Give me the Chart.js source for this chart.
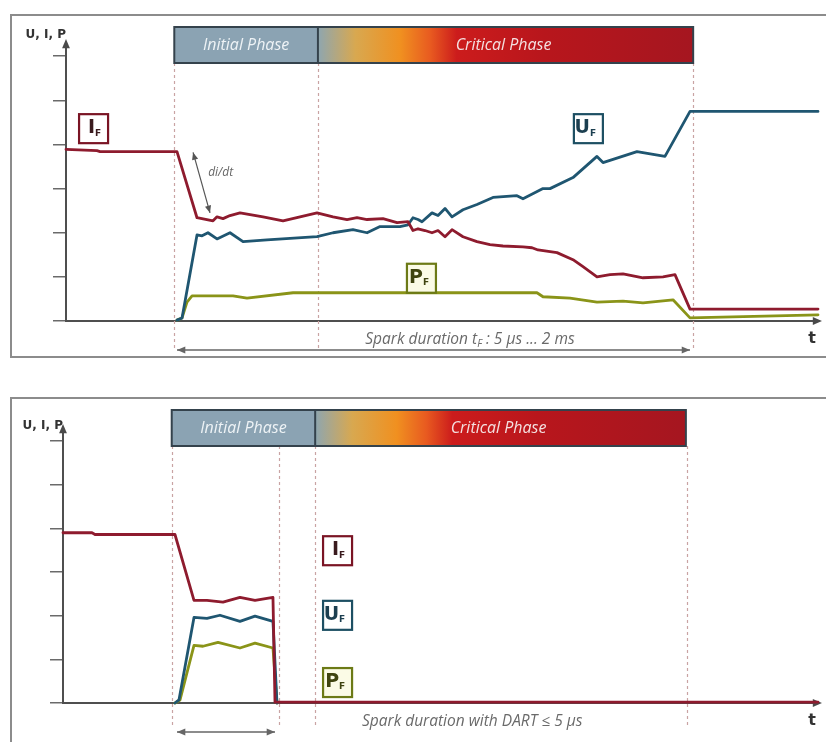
<!DOCTYPE html>
<html>
<head>
<meta charset="utf-8">
<script src="https://cdn.jsdelivr.net/npm/chart.js@4.4.0/dist/chart.umd.min.js"></script>
<style>
  html, body { margin: 0; padding: 0; background: #fff; }
  body { width: 826px; height: 742px; overflow: hidden; position: relative; }
  .frame { position: absolute; border: 2px solid #8c8c8c; box-sizing: border-box; }
  canvas { position: absolute; left: 0; }
</style>
</head>
<body>
<div class="frame" style="left:10px;top:14px;width:830px;height:344px"></div>
<div class="frame" style="left:10px;top:397px;width:830px;height:360px"></div>
<canvas id="topChart" width="826" height="370" style="top:0"></canvas>
<canvas id="bottomChart" width="826" height="372" style="top:370px"></canvas>
<script>
// y ticks (same for both panels)
const yTicks = [0, 1, 2, 3, 4, 5, 6];

// top panel: normal spark (time in arbitrary units 0..100)
const topIfT = [0, 4.12, 4.52, 14.76, 17.42, 19.55, 20.08, 20.88, 21.81, 23.14, 26.20, 28.86, 33.38, 35.51, 37.37, 38.70, 40.03, 42.15, 44.02, 45.48, 46.14, 46.81, 47.74, 48.67, 49.47, 50.40, 51.33, 52.79, 54.65, 56.38, 58.11, 60.77, 61.97, 62.77, 65.29, 67.42, 68.75, 70.61, 72.34, 74.07, 76.73, 79.39, 80.98, 82.98, 100];
const topIfV = [3.89, 3.86, 3.84, 3.84, 2.34, 2.27, 2.36, 2.32, 2.39, 2.45, 2.36, 2.27, 2.45, 2.36, 2.30, 2.34, 2.30, 2.32, 2.23, 2.25, 2.05, 2.09, 2.05, 2.00, 2.05, 1.91, 2.07, 1.91, 1.80, 1.73, 1.70, 1.68, 1.66, 1.61, 1.55, 1.39, 1.23, 1.00, 1.05, 1.07, 0.98, 1.00, 1.05, 0.27, 0.27];
const topUfT = [14.76, 15.43, 17.42, 18.09, 18.88, 20.08, 21.81, 23.54, 26.73, 33.38, 35.51, 38.16, 40.03, 41.76, 44.41, 45.48, 46.14, 46.81, 47.34, 48.67, 49.47, 50.40, 51.33, 52.79, 54.65, 56.78, 59.97, 60.77, 63.43, 64.36, 67.42, 70.61, 71.41, 75.93, 79.65, 82.98, 100];
const topUfV = [0.02, 0.07, 1.95, 1.93, 2.00, 1.86, 2.00, 1.80, 1.84, 1.91, 2.00, 2.07, 2.00, 2.14, 2.14, 2.18, 2.34, 2.30, 2.25, 2.45, 2.39, 2.55, 2.36, 2.52, 2.64, 2.80, 2.84, 2.77, 3.00, 3.00, 3.25, 3.73, 3.59, 3.84, 3.73, 4.75, 4.75];
const topPfT = [14.76, 15.43, 16.09, 16.76, 22.21, 24.07, 30.19, 62.63, 63.43, 67.02, 70.61, 74.07, 76.73, 80.72, 82.98, 100];
const topPfV = [0.02, 0.07, 0.43, 0.57, 0.57, 0.52, 0.64, 0.64, 0.55, 0.52, 0.43, 0.45, 0.41, 0.48, 0.07, 0.14];

// bottom panel: spark cut off by DART
const botIfT = [0, 3.84, 4.24, 14.83, 17.35, 19.07, 21.19, 23.44, 25.43, 27.81, 28.08, 100];
const botIfV = [3.90, 3.90, 3.86, 3.86, 2.35, 2.35, 2.31, 2.42, 2.35, 2.42, 0.02, 0.02];
const botUfT = [14.83, 15.36, 17.35, 19.07, 20.79, 23.44, 25.43, 27.81, 28.34];
const botUfV = [0, 0.07, 1.96, 1.94, 2.01, 1.87, 1.99, 1.87, 0];
const botPfT = [14.83, 15.50, 17.35, 18.54, 20.53, 23.44, 25.43, 27.81, 28.34];
const botPfV = [0, 0.07, 1.32, 1.30, 1.39, 1.26, 1.37, 1.26, 0];

// phase bar: start, end of initial phase, end of critical phase
const topPhases = [14.4, 33.5, 83.4];
const botPhases = [14.4, 33.4, 82.5];
const topMarkers = [14.4, 33.5, 83.4];
const botMarkers = [14.4, 28.6, 33.4, 82.6];

const colI = '#8e1b2e', colU = '#1f5671', colP = '#8a9418';

function pts(t, v) {
    return t.map((x, i) => ({ x: x, y: v[i] }));
}

function arrowHead(ctx, x, y, ang, size) {
    ctx.beginPath();
    ctx.moveTo(x, y);
    ctx.lineTo(x - size * Math.cos(ang - 0.4), y - size * Math.sin(ang - 0.4));
    ctx.lineTo(x - size * Math.cos(ang + 0.4), y - size * Math.sin(ang + 0.4));
    ctx.closePath();
    ctx.fill();
}

function doubleArrow(ctx, x1, y1, x2, y2, size) {
    ctx.beginPath();
    ctx.moveTo(x1, y1);
    ctx.lineTo(x2, y2);
    ctx.stroke();
    const ang = Math.atan2(y2 - y1, x2 - x1);
    arrowHead(ctx, x2, y2, ang, size);
    arrowHead(ctx, x1, y1, ang + Math.PI, size);
}

function subText(ctx, letter, cx, cy, color) {
    ctx.fillStyle = color;
    ctx.font = 'bold 19px "DejaVu Sans"';
    ctx.textBaseline = 'middle';
    ctx.textAlign = 'right';
    ctx.fillText(letter, cx + 2, cy);
    ctx.font = 'bold 9px "DejaVu Sans"';
    ctx.textAlign = 'left';
    ctx.fillText('F', cx + 2, cy + 5);
}

const decor = {
    id: 'decor',
    beforeDatasetsDraw(chart, args, o) {
        const { ctx, chartArea: a, scales: { x, y } } = chart;
        ctx.save();
        const p0 = x.getPixelForValue(o.phases[0]);
        const p1 = x.getPixelForValue(o.phases[1]);
        const p2 = x.getPixelForValue(o.phases[2]);
        const bt = a.top + o.barDy, bh = 36;

        // dashed markers
        ctx.strokeStyle = '#c9a3a3';
        ctx.lineWidth = 1.2;
        ctx.setLineDash([3, 3]);
        o.markers.forEach(m => {
            const px = Math.round(x.getPixelForValue(m)) + 0.5;
            ctx.beginPath();
            ctx.moveTo(px, bt + bh);
            ctx.lineTo(px, a.bottom + o.markerEnd);
            ctx.stroke();
        });
        ctx.setLineDash([]);

        // phase bar
        ctx.fillStyle = '#8ba3b3';
        ctx.fillRect(p0, bt, p1 - p0, bh);
        const g = ctx.createLinearGradient(p1, 0, p2, 0);
        g.addColorStop(0, '#8ea6b0');
        g.addColorStop(0.1, '#d8a850');
        g.addColorStop(0.22, '#f09020');
        g.addColorStop(0.30, '#e85a20');
        g.addColorStop(0.37, '#cc1c1c');
        g.addColorStop(0.6, '#b8161c');
        g.addColorStop(1, '#a51620');
        ctx.fillStyle = g;
        ctx.fillRect(p1, bt, p2 - p1, bh);
        ctx.strokeStyle = '#34424c';
        ctx.lineWidth = 2;
        ctx.strokeRect(p0, bt, p2 - p0, bh);
        ctx.beginPath();
        ctx.moveTo(p1, bt);
        ctx.lineTo(p1, bt + bh);
        ctx.stroke();
        ctx.font = 'italic 16px "Open Sans"';
        ctx.textAlign = 'center';
        ctx.textBaseline = 'middle';
        ctx.fillStyle = '#eef3f6';
        ctx.fillText('Initial Phase', (p0 + p1) / 2, bt + bh / 2);
        ctx.fillStyle = '#f4e0e0';
        ctx.fillText('Critical Phase', (p1 + p2) / 2 - 2, bt + bh / 2);

        // axis arrows and labels
        ctx.fillStyle = '#4a4a4a';
        arrowHead(ctx, a.left, a.top - 4, -Math.PI / 2, 10);
        arrowHead(ctx, a.right + 4, a.bottom, 0, 10);
        ctx.font = 'bold 12px "DejaVu Sans"';
        ctx.textAlign = 'right';
        ctx.fillStyle = '#333';
        ctx.fillText('U, I, P', a.left, a.top + o.axisLabelDy);
        ctx.font = 'bold 16px "DejaVu Sans"';
        ctx.fillText('t', a.right - 2, a.bottom + 18);

        // spark duration arrow and text
        ctx.strokeStyle = '#666';
        ctx.fillStyle = '#666';
        ctx.lineWidth = 1.5;
        const ay = a.bottom + 29;
        doubleArrow(ctx, x.getPixelForValue(o.spark[0]), ay, x.getPixelForValue(o.spark[1]), ay, 9);
        ctx.textAlign = 'left';
        ctx.fillStyle = '#6a6a6a';
        let tx = x.getPixelForValue(o.sparkTextX);
        const ty = a.bottom + 19;
        o.sparkText.forEach(part => {
            if (part.sub) {
                ctx.font = 'italic 10px "Open Sans"';
                ctx.fillText(part.sub, tx, ty + 4);
                tx += ctx.measureText(part.sub).width;
            } else {
                ctx.font = 'italic 15.5px "Open Sans"';
                ctx.fillText(part.t, tx, ty);
                tx += ctx.measureText(part.t).width;
            }
        });

        // di/dt arrow
        if (o.didt) {
            ctx.strokeStyle = '#555';
            ctx.fillStyle = '#555';
            ctx.lineWidth = 1.2;
            doubleArrow(ctx, x.getPixelForValue(o.didt.from[0]), y.getPixelForValue(o.didt.from[1]),
                x.getPixelForValue(o.didt.to[0]), y.getPixelForValue(o.didt.to[1]), 8);
            ctx.font = 'italic 12px "Open Sans"';
            ctx.textAlign = 'left';
            ctx.fillStyle = '#666';
            ctx.fillText('di/dt', x.getPixelForValue(o.didt.text[0]), y.getPixelForValue(o.didt.text[1]));
        }
        ctx.restore();
    },
    afterDatasetsDraw(chart, args, o) {
        const { ctx, scales: { x, y } } = chart;
        ctx.save();
        o.labels.forEach(l => {
            const cx = x.getPixelForValue(l.x), cy = y.getPixelForValue(l.y);
            ctx.fillStyle = l.fill;
            ctx.fillRect(cx - 14, cy - 14, 29, 29);
            ctx.strokeStyle = l.color;
            ctx.lineWidth = 2.2;
            ctx.strokeRect(cx - 14, cy - 14, 29, 29);
            subText(ctx, l.letter, cx, cy, l.text);
        });
        ctx.restore();
    }
};

function buildChart(id, series, deco, pad) {
    const ctx = document.getElementById(id);
    return new Chart(ctx, {
        type: 'line',
        data: {
            datasets: [
                { label: 'I_F', data: pts(series.iT, series.iV), borderColor: colI, order: 1 },
                { label: 'U_F', data: pts(series.uT, series.uV), borderColor: colU, order: 2 },
                { label: 'P_F', data: pts(series.pT, series.pV), borderColor: colP, order: 3 }
            ]
        },
        options: {
            responsive: false,
            animation: false,
            devicePixelRatio: 1,
            layout: { padding: pad },
            elements: {
                point: { radius: 0 },
                line: { borderWidth: 2.8, tension: 0, borderJoinStyle: 'round', borderCapStyle: 'round' }
            },
            datasets: { line: { clip: false } },
            scales: {
                x: {
                    type: 'linear', min: 0, max: 100,
                    grid: { display: false, drawTicks: false },
                    ticks: { display: false },
                    border: { display: true, color: '#4f4f4f', width: 2 }
                },
                y: {
                    type: 'linear', min: 0, max: 6.3,
                    afterBuildTicks: axis => { axis.ticks = yTicks.map(v => ({ value: v })); },
                    grid: { drawOnChartArea: false, tickLength: 13, color: '#6a6a6a', lineWidth: 1.5 },
                    ticks: { display: false },
                    border: { display: true, color: '#4f4f4f', width: 2 }
                }
            },
            plugins: {
                legend: { display: false },
                tooltip: { enabled: false },
                decor: deco
            }
        },
        plugins: [decor]
    });
}

buildChart('topChart',
    { iT: topIfT, iV: topIfV, uT: topUfT, uV: topUfV, pT: topPfT, pV: topPfV },
    {
        phases: topPhases, markers: topMarkers, barDy: -16, markerEnd: 29, axisLabelDy: -8,
        spark: [14.76, 82.98], sparkTextX: 39.8,
        sparkText: [{ t: 'Spark duration t' }, { sub: 'F' }, { t: ' : 5 µs ... 2 ms' }],
        didt: { from: [16.9, 3.82], to: [19.15, 2.45], text: [18.9, 3.36] },
        labels: [
            { letter: 'I', x: 3.6, y: 4.37, color: '#7a1424', fill: '#fff', text: '#3a1a1e' },
            { letter: 'U', x: 69.4, y: 4.37, color: '#1d4f63', fill: '#fff', text: '#1c3f50' },
            { letter: 'P', x: 47.2, y: 0.98, color: '#6c7a16', fill: '#fbfbe6', text: '#3f4410' }
        ]
    },
    { left: 53, top: 43, right: 8, bottom: 49 });

buildChart('bottomChart',
    { iT: botIfT, iV: botIfV, uT: botUfT, uV: botUfV, pT: botPfT, pV: botPfV },
    {
        phases: botPhases, markers: botMarkers, barDy: -18, markerEnd: 25, axisLabelDy: -2,
        spark: [15.1, 28.08], sparkTextX: 39.6,
        sparkText: [{ t: 'Spark duration with DART ≤ 5 µs' }],
        didt: null,
        labels: [
            { letter: 'I', x: 36.3, y: 3.50, color: '#7a1424', fill: '#fff', text: '#3a1a1e' },
            { letter: 'U', x: 36.3, y: 2.02, color: '#1d4f63', fill: '#fff', text: '#1c3f50' },
            { letter: 'P', x: 36.3, y: 0.48, color: '#6c7a16', fill: '#fbfbe6', text: '#3f4410' }
        ]
    },
    { left: 50, top: 58, right: 8, bottom: 39 });
</script>
</body>
</html>
